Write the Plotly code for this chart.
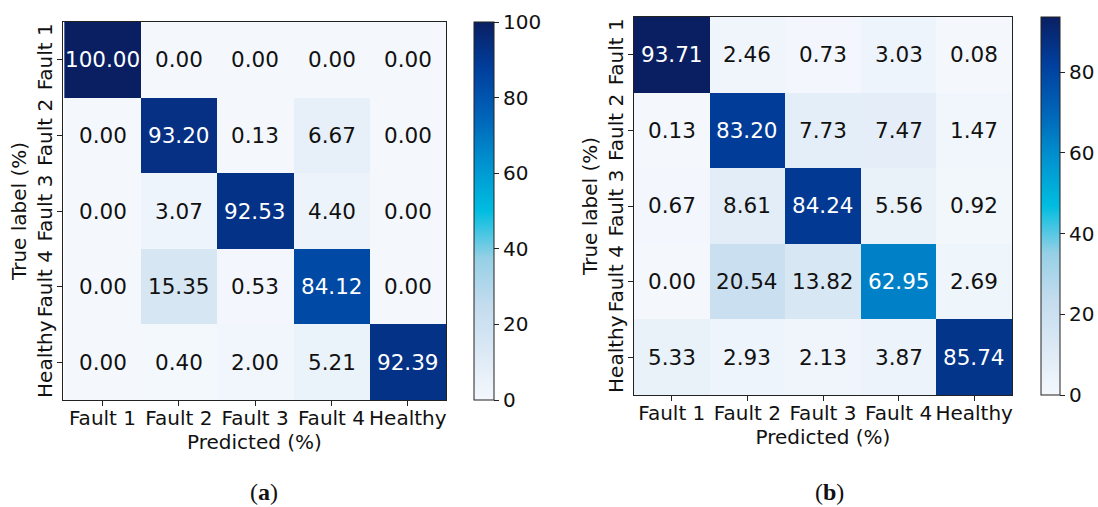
import plotly.graph_objects as go

classes = ["Fault 1", "Fault 2", "Fault 3", "Fault 4", "Healthy"]

cm_a = [
    [100.00, 0.00, 0.00, 0.00, 0.00],
    [0.00, 93.20, 0.13, 6.67, 0.00],
    [0.00, 3.07, 92.53, 4.40, 0.00],
    [0.00, 15.35, 0.53, 84.12, 0.00],
    [0.00, 0.40, 2.00, 5.21, 92.39],
]

cm_b = [
    [93.71, 2.46, 0.73, 3.03, 0.08],
    [0.13, 83.20, 7.73, 7.47, 1.47],
    [0.67, 8.61, 84.24, 5.56, 0.92],
    [0.00, 20.54, 13.82, 62.95, 2.69],
    [5.33, 2.93, 2.13, 3.87, 85.74],
]

cbar_ticks_a = [0, 20, 40, 60, 80, 100]
cbar_ticks_b = [0, 20, 40, 60, 80]

W, H = 1098, 507
FONT = "DejaVu Sans"
TS = 20  # tick / title font size

blues = [
    [0.0, "#f4f8fd"], [0.125, "#dce9f5"], [0.25, "#c4dcee"],
    [0.375, "#96d0e6"], [0.5, "#00bde0"], [0.625, "#0093d0"],
    [0.75, "#0064b8"], [0.875, "#003f9e"], [1.0, "#0a1f62"],
]

# pixel boxes (left, top, right, bottom)
box_a = (63, 22, 446, 400)
box_b = (634, 17, 1012, 395)
cb_a = (474, 494)
cb_b = (1041, 1060)

def dom_x(b):
    return [b[0] / W, b[2] / W]

def dom_y(b):
    return [1 - b[3] / H, 1 - b[1] / H]

fig = go.Figure()

def add_cm(cm, xa, ya, box, cb, ticks):
    zmax = max(max(r) for r in cm)
    fig.add_trace(go.Heatmap(
        z=cm, x=classes, y=classes, xaxis=xa, yaxis=ya,
        colorscale=blues, zmin=0, zmax=zmax,
        xgap=0, ygap=0, hoverinfo="skip",
        colorbar=dict(
            x=cb[0] / W, xanchor="left", xref="paper",
            y=1 - box[3] / H, yanchor="bottom",
            len=(box[3] - box[1]) / H, lenmode="fraction",
            thickness=cb[1] - cb[0], thicknessmode="pixels",
            xpad=0, ypad=0,
            outlinecolor="#222", outlinewidth=1,
            tickvals=ticks, ticks="outside", ticklen=5, tickcolor="#222",
            tickfont=dict(family=FONT, size=TS, color="#111"),
        ),
    ))
    thresh = zmax / 2
    for i, row in enumerate(cm):
        for j, v in enumerate(row):
            fig.add_annotation(
                x=classes[j], y=classes[i], xref=xa, yref=ya,
                text=f"{v:.2f}", showarrow=False,
                font=dict(family=FONT, size=21.5,
                          color="white" if v > thresh else "#111"),
            )

add_cm(cm_a, "x", "y", box_a, cb_a, cbar_ticks_a)
add_cm(cm_b, "x2", "y2", box_b, cb_b, cbar_ticks_b)

ax_common = dict(
    showline=True, linecolor="#222", linewidth=1.2, mirror=True,
    ticks="outside", ticklen=5, tickcolor="#222",
    tickfont=dict(family=FONT, size=TS, color="#111"),
    showgrid=False, zeroline=False,
)

def xtitle():
    return dict(text="Predicted (%)", standoff=0,
                font=dict(family=FONT, size=TS, color="#111"))

def ytitle():
    return dict(text="True label (%)", standoff=0,
                font=dict(family=FONT, size=TS, color="#111"))

fig.update_layout(
    width=W, height=H,
    margin=dict(l=0, r=0, t=0, b=0),
    paper_bgcolor="white", plot_bgcolor="white",
    showlegend=False,
    xaxis=dict(domain=dom_x(box_a), anchor="y", title=xtitle(),
               ticklabelstandoff=-5, **ax_common),
    yaxis=dict(domain=dom_y(box_a), anchor="x", autorange="reversed",
               tickangle=-90, title=ytitle(), ticklabelstandoff=-3,
               **ax_common),
    xaxis2=dict(domain=dom_x(box_b), anchor="y2", title=xtitle(),
                ticklabelstandoff=-5, **ax_common),
    yaxis2=dict(domain=dom_y(box_b), anchor="x2", autorange="reversed",
                tickangle=-90, title=ytitle(), ticklabelstandoff=-3,
                **ax_common),
)

for label, cx in [("a", 264), ("b", 829)]:
    fig.add_annotation(
        x=cx / W, y=1 - 492 / H, xref="paper", yref="paper",
        xanchor="center", yanchor="middle",
        text=f"(<b>{label}</b>)", showarrow=False,
        font=dict(family="Liberation Serif", size=24, color="#111"),
    )

fig.write_html("out.html")
